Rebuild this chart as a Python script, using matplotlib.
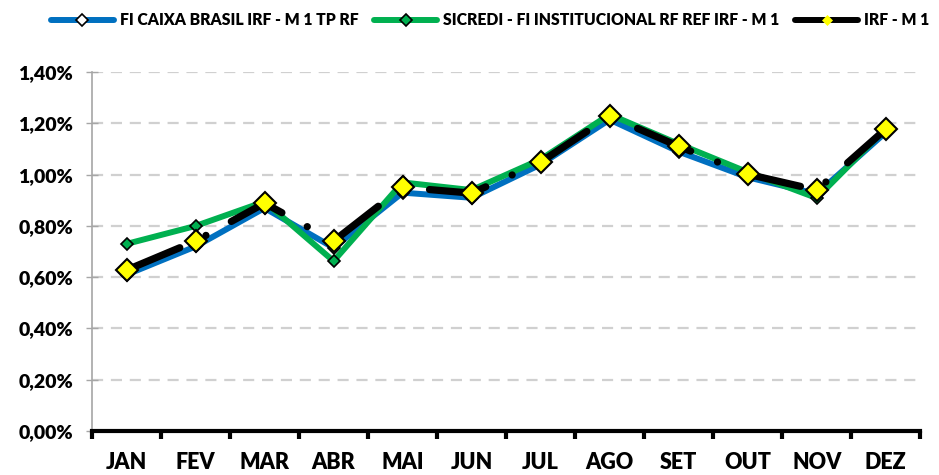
import numpy as np
import matplotlib.pyplot as plt
from matplotlib.lines import Line2D
from matplotlib.ticker import FuncFormatter

meses = ["JAN", "FEV", "MAR", "ABR", "MAI", "JUN", "JUL", "AGO", "SET", "OUT", "NOV", "DEZ"]
caixa = [0.61, 0.72, 0.87, 0.715, 0.93, 0.91, 1.04, 1.215, 1.09, 0.99, 0.925, 1.165]
sicredi = [0.73, 0.80, 0.895, 0.663, 0.97, 0.94, 1.06, 1.235, 1.12, 1.01, 0.909, 1.18]
irfm1 = [0.628, 0.741, 0.889, 0.741, 0.951, 0.928, 1.049, 1.228, 1.111, 1.002, 0.94, 1.178]
yticks = [0.0, 0.2, 0.4, 0.6, 0.8, 1.0, 1.2, 1.4]
nomes = ['FI CAIXA BRASIL IRF - M 1 TP RF', 'SICREDI - FI INSTITUCIONAL RF REF IRF - M 1', 'IRF - M 1']

plt.rcParams['font.family'] = ['Lato', 'DejaVu Sans']
peso = 'heavy'

fig = plt.figure(figsize=(9.39, 4.75), dpi=100)
ax = fig.add_axes([0.098, 0.0926, 0.882, 0.7554])

x = np.arange(len(meses))
ax.plot(x, caixa, color='#0070C0', lw=4.3, marker='D', ms=6,
        mfc='white', mec='black', mew=1.2, zorder=3)
ax.plot(x, sicredi, color='#00B050', lw=4.3, marker='D', ms=6.5,
        mfc='#00B050', mec='black', mew=1.2, zorder=4)
ax.plot(x, irfm1, color='black', lw=5.2, ls=(0, (8, 4, 0.01, 4)),
        dash_capstyle='round', solid_capstyle='round', marker='D', ms=11,
        mfc='#FFFF00', mec='black', mew=1.5, zorder=5)

ax.set_xlim(-0.5, 11.5)
ax.set_ylim(0, 1.4)
ax.set_yticks(yticks)
ax.yaxis.set_major_formatter(FuncFormatter(lambda v, p: f"{v:.2f}%".replace('.', ',')))
ax.set_xticks(x)
ax.set_xticklabels(meses, fontsize=15.5, fontweight=peso)
ax.set_xticks(np.arange(-0.5, 12, 1), minor=True)
ax.tick_params(axis='x', which='major', length=0, pad=15)
ax.tick_params(axis='x', which='minor', length=6, width=3, color='black', direction='out')
ax.tick_params(axis='y', length=9, width=1, color='#a6a6a6', direction='inout', labelsize=14, pad=9)
for lab in ax.get_yticklabels():
    lab.set_fontweight(peso)

ax.grid(axis='y', color='#d0d0d0', lw=1.6, ls=(0, (5, 3.5)))
ax.set_axisbelow(True)
for s in ['top', 'right']:
    ax.spines[s].set_visible(False)
ax.spines['left'].set_color('#a6a6a6')
ax.spines['left'].set_linewidth(1.2)
ax.spines['bottom'].set_color('black')
ax.spines['bottom'].set_linewidth(3)
ax.spines['bottom'].set_zorder(6)

handles = [
    Line2D([], [], color='#0070C0', lw=4.3, solid_capstyle='round', marker='D', ms=6,
           mfc='white', mec='black', mew=1.2),
    Line2D([], [], color='#00B050', lw=4.3, solid_capstyle='round', marker='D', ms=6,
           mfc='#00B050', mec='black', mew=1.2),
    Line2D([], [], color='black', lw=4.3, solid_capstyle='round', marker='D', ms=5.5,
           mfc='#FFFF00', mec='#FFFF00', mew=0.5),
]
fig.legend(handles, nomes, loc='center', bbox_to_anchor=(0.522, 0.957), ncol=3, frameon=False,
           handlelength=4.0, numpoints=1, columnspacing=1.0, handletextpad=0.4,
           prop={'size': 11.3, 'weight': peso})

fig.savefig('out.png', dpi=100)
